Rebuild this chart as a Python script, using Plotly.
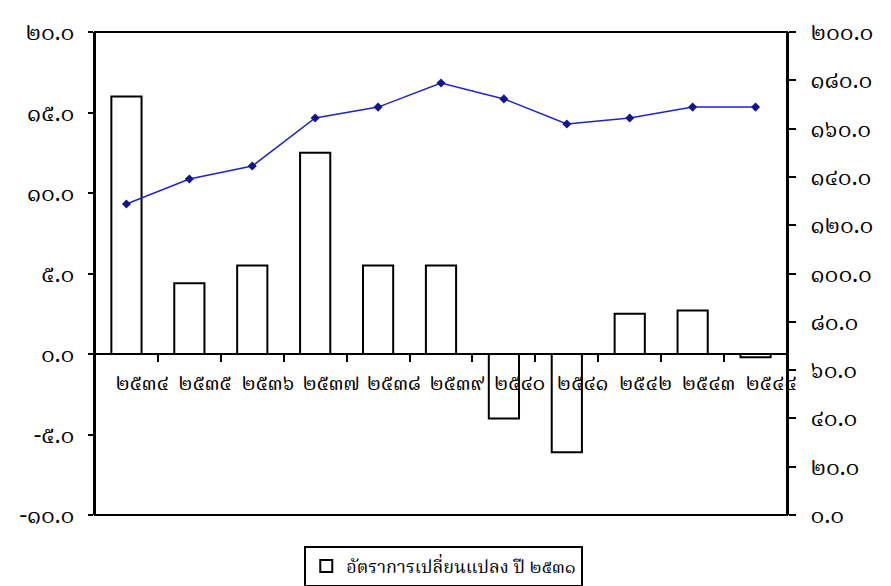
import plotly.graph_objects as go

categories = ["๒๕๓๔", "๒๕๓๕", "๒๕๓๖", "๒๕๓๗", "๒๕๓๘", "๒๕๓๙",
              "๒๕๔๐", "๒๕๔๑", "๒๕๔๒", "๒๕๔๓", "๒๕๔๔"]
change_rate = [16.0, 4.4, 5.5, 12.5, 5.5, 5.5, -4.0, -6.1, 2.5, 2.7, -0.2]
index_values = [128.8, 139.1, 144.5, 164.4, 168.9, 178.9, 172.3, 161.9, 164.4, 168.9, 168.9]

left_tickvals = [-10, -5, 0, 5, 10, 15, 20]
left_ticktext = ["-๑๐.๐", "-๕.๐", "๐.๐", "๕.๐", "๑๐.๐", "๑๕.๐", "๒๐.๐"]
right_tickvals = [0, 20, 40, 60, 80, 100, 120, 140, 160, 180, 200]
right_ticktext = ["๐.๐", "๒๐.๐", "๔๐.๐", "๖๐.๐", "๘๐.๐", "๑๐๐.๐",
                  "๑๒๐.๐", "๑๔๐.๐", "๑๖๐.๐", "๑๘๐.๐", "๒๐๐.๐"]
legend_label = "อัตราการเปลี่ยนแปลง ปี ๒๕๓๑"

FONT = "Noto Serif Thai, Noto Sans Thai, Loma, Garuda, DejaVu Sans, sans-serif"

xpos = list(range(len(categories)))
label_pos = [i + 0.25 for i in xpos]
boundary_pos = [i + 0.5 for i in xpos[:-1]]
xrange_ = [-0.5, len(categories) - 0.5]

fig = go.Figure()
fig.add_trace(go.Bar(
    x=xpos, y=change_rate, name=legend_label,
    marker=dict(color="white", line=dict(color="black", width=2)),
    yaxis="y", showlegend=True,
))
fig.add_trace(go.Scatter(
    x=xpos, y=index_values, yaxis="y2", mode="lines+markers",
    line=dict(color="#2323c8", width=1.5),
    marker=dict(symbol="diamond", size=7, color="#14148c"),
    showlegend=False,
))
# invisible helper trace so the boundary-tick axis is drawn
fig.add_trace(go.Scatter(
    x=xpos, y=change_rate, xaxis="x2", yaxis="y", mode="markers",
    marker=dict(opacity=0), showlegend=False, hoverinfo="skip",
))

fig.update_layout(
    width=883, height=578,
    margin=dict(l=87, r=104, t=24, b=71, autoexpand=False),
    paper_bgcolor="white", plot_bgcolor="white",
    font=dict(family=FONT, size=18, color="black"),
    bargap=0.52,
    xaxis=dict(
        range=xrange_,
        anchor="free", position=1/3,
        tickmode="array", tickvals=label_pos, ticktext=categories,
        showline=True, linecolor="black", linewidth=2,
        ticks="", ticklabelstandoff=10,
        tickfont=dict(size=21), showgrid=False, zeroline=False,
    ),
    xaxis2=dict(
        range=xrange_, overlaying="x",
        anchor="free", position=1/3, side="bottom",
        tickmode="array", tickvals=boundary_pos,
        showticklabels=False, showline=False,
        ticks="outside", ticklen=7, tickwidth=2, tickcolor="black",
        showgrid=False, zeroline=False,
    ),
    yaxis=dict(
        range=[-10, 20], tickvals=left_tickvals, ticktext=left_ticktext,
        showline=True, linecolor="black", linewidth=2,
        ticks="outside", ticklen=5, tickwidth=2, tickcolor="black",
        ticklabelstandoff=9,
        showgrid=False, zeroline=False, tickfont=dict(size=23),
    ),
    yaxis2=dict(
        range=[0, 200], tickvals=right_tickvals, ticktext=right_ticktext,
        overlaying="y", side="right",
        showline=True, linecolor="black", linewidth=2,
        ticks="outside", ticklen=7, tickwidth=2, tickcolor="black",
        ticklabelstandoff=10,
        showgrid=False, zeroline=False, tickfont=dict(size=23),
    ),
    legend=dict(
        x=0.504, y=-0.064, xanchor="center", yanchor="top",
        bordercolor="black", borderwidth=2, bgcolor="white",
        font=dict(size=18), itemwidth=30,
    ),
    shapes=[dict(type="rect", xref="paper", yref="paper", x0=0, x1=1, y0=0, y1=1,
                 line=dict(color="black", width=2), layer="above")],
)

fig.write_html("out.html")
